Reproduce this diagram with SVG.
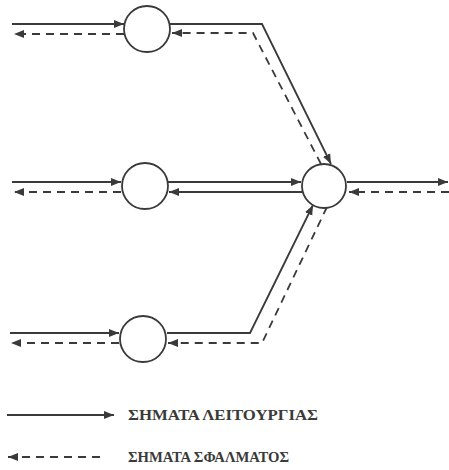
<svg xmlns="http://www.w3.org/2000/svg" width="449" height="470" viewBox="0 0 449 470">
<style>
.s{fill:none;stroke:#3a3a3a;stroke-width:1.8}
.d{fill:none;stroke:#3a3a3a;stroke-width:1.8;stroke-dasharray:8 6}
.n{fill:#fff;stroke:#3a3a3a;stroke-width:1.8}
.t{font-family:"Liberation Serif","DejaVu Serif",serif;font-size:15px;font-weight:bold;fill:#3a3a3a}
</style>
<defs>
<marker id="a" markerUnits="userSpaceOnUse" markerWidth="11" markerHeight="9" refX="10" refY="4.5" orient="auto">
<path d="M0,0.5 L10,4.5 L0,8.5 Z" fill="#3a3a3a"/>
</marker>
</defs>
<g id="connectors">
<path class="s" d="M12,24 H124" marker-end="url(#a)"/>
<path class="d" d="M124,34 H14" marker-end="url(#a)"/>
<path class="s" d="M170,24 H262 L331,164" marker-end="url(#a)"/>
<path class="d" d="M321,164 L253,33 H172" marker-end="url(#a)"/>
<path class="s" d="M12,182 H121" marker-end="url(#a)"/>
<path class="d" d="M121,192 H14" marker-end="url(#a)"/>
<path class="s" d="M168,182 H301" marker-end="url(#a)"/>
<path class="s" d="M302,192 H169" marker-end="url(#a)"/>
<path class="s" d="M347,182 H448" marker-end="url(#a)"/>
<path class="d" d="M449,192 H349" marker-end="url(#a)"/>
<path class="s" d="M10,333 H119" marker-end="url(#a)"/>
<path class="d" d="M119,343 H11" marker-end="url(#a)"/>
<path class="s" d="M167,333 H250 L313,205" marker-end="url(#a)"/>
<path class="d" d="M327,207 L262,343 H168" marker-end="url(#a)"/>
</g>
<g id="node-top"><circle class="n" cx="147" cy="29" r="23"/></g>
<g id="node-middle"><circle class="n" cx="145" cy="186" r="23"/></g>
<g id="node-bottom"><circle class="n" cx="143" cy="339" r="23"/></g>
<g id="node-right"><circle class="n" cx="324" cy="186" r="22"/></g>
<g id="legend">
<path class="s" d="M7,415 H114" marker-end="url(#a)"/>
<path class="d" d="M100,457 H8" marker-end="url(#a)"/>
<text class="t" x="128" y="420" textLength="190" lengthAdjust="spacingAndGlyphs">ΣΗΜΑΤΑ ΛΕΙΤΟΥΡΓΙΑΣ</text>
<text class="t" x="128" y="462" textLength="161" lengthAdjust="spacingAndGlyphs">ΣΗΜΑΤΑ ΣΦΑΛΜΑΤΟΣ</text>
</g>
</svg>
